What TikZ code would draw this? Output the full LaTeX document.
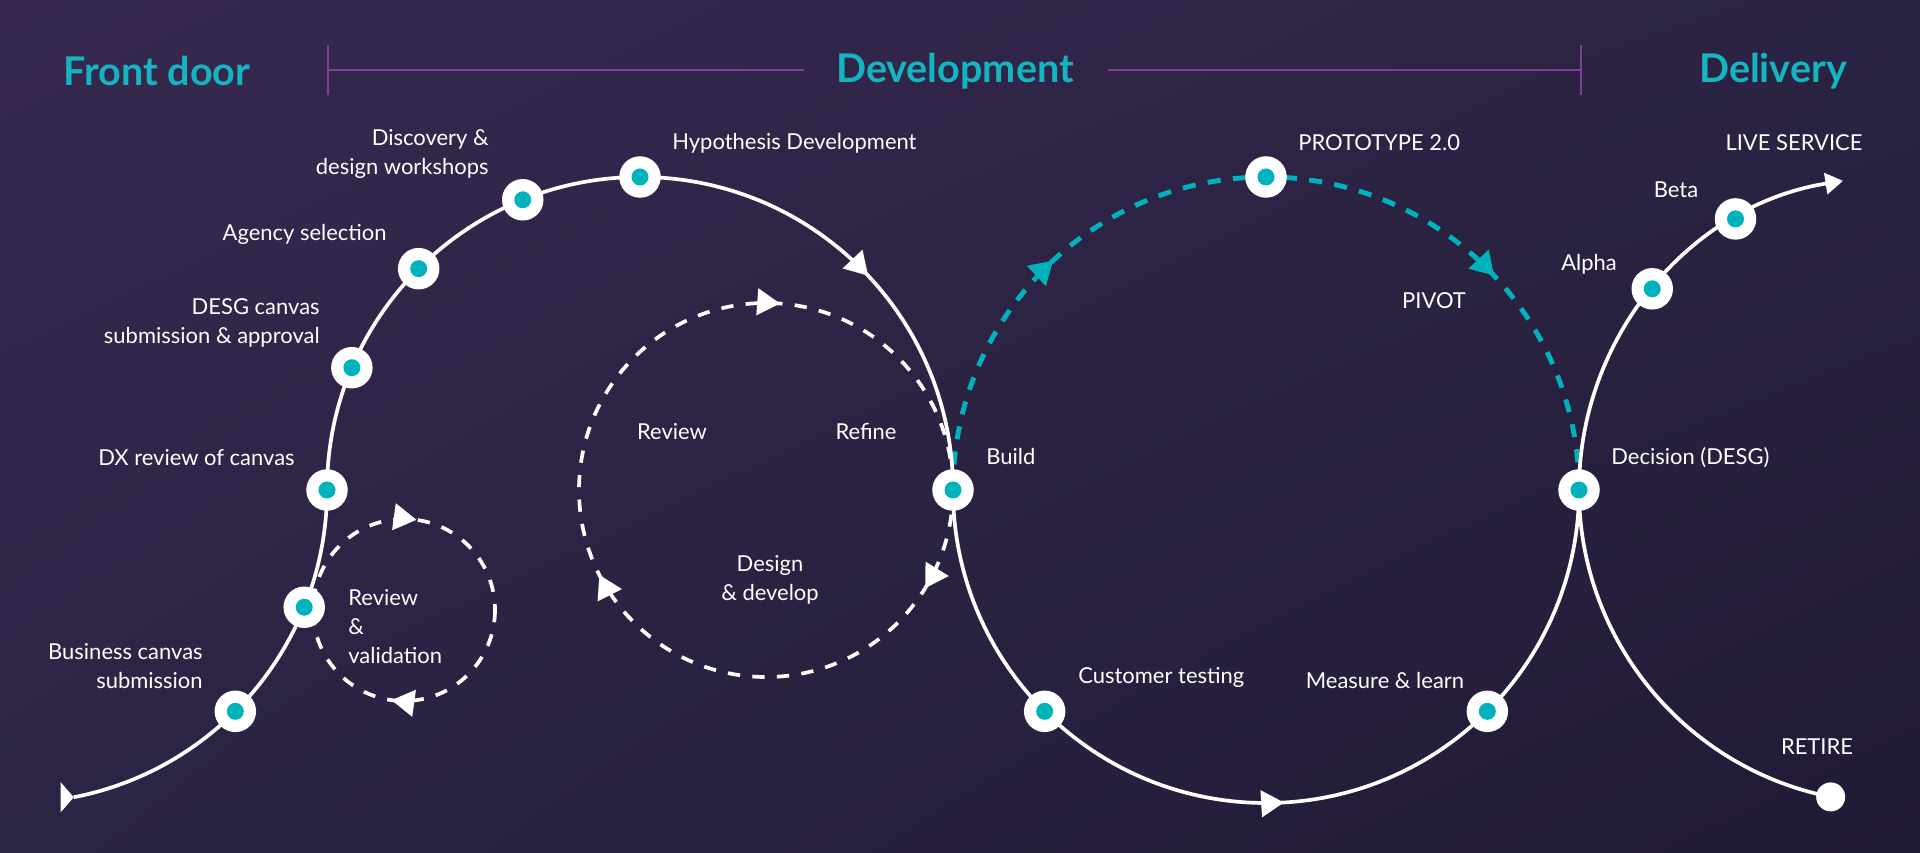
\documentclass[tikz,border=0pt]{standalone}
\usepackage{fontspec}
\setmainfont{Lato}
\usetikzlibrary{arrows.meta, decorations.markings, backgrounds, shadings, positioning}

\definecolor{bgUL}{HTML}{37294F}
\definecolor{bgUR}{HTML}{2B2343}
\definecolor{bgLL}{HTML}{2C2445}
\definecolor{bgLR}{HTML}{211A35}
\definecolor{dotteal}{HTML}{00B2BC}
\definecolor{headteal}{HTML}{14B4C0}
\definecolor{spanpurple}{HTML}{7D3F9E}

\tikzset{flow/.tip={Triangle[length=13pt, width=15pt]}}

\begin{document}
\begin{tikzpicture}[
  x=0.02cm, y=0.02cm,
  track/.style={draw=white, color=white, line width=2.1pt},
  loopline/.style={draw=white, color=white, line width=2.1pt, dash pattern=on 7pt off 7pt},
  pivotline/.style={draw=dotteal, color=dotteal, line width=2.8pt, dash pattern=on 7.5pt off 7pt},
  stage/.style={circle, fill=white, minimum size=0.83cm, inner sep=0pt,
    path picture={\fill[dotteal] (path picture bounding box.center) circle[radius=0.17cm];}},
  endstage/.style={circle, fill=white, minimum size=0.58cm, inner sep=0pt},
  lbl/.style={text=white, font=\fontsize{12.5}{16.5}\selectfont, inner sep=0pt},
  phase/.style={text=headteal, font=\fontsize{22.5}{26}\selectfont\bfseries, inner sep=0pt},
  span/.style={draw=spanpurple, line width=1.6pt}
]

\def\R{313}
\useasboundingbox (0,0) rectangle (1920,852);

% circle centres
\coordinate (c0) at (14,362);
\coordinate (c1) at (640,362);
\coordinate (c2) at (1266,362);
\coordinate (c3) at (1892,362);
\coordinate (c4) at (767,362);  % design loop
\coordinate (c5) at (404,242);  % validation loop

% Phases
\node[phase] (frontdoor) at (157,781) {Front door};
\node[phase] (development) at (955,781) {Development};
\node[phase] (delivery) at (1773,781) {Delivery};

\coordinate (spanL) at (328,782);
\coordinate (gapL) at (804,782);
\coordinate (gapR) at (1108,782);
\coordinate (spanR) at (1581,782);
\draw[span] (spanL) -- (gapL) (gapR) -- (spanR);
\draw[span] (spanL) ++(0,-25) -- ++(0,50) (spanR) ++(0,-25) -- ++(0,50);

% Stages
\node[stage] (bizcanvas) at ([shift={(-45:\R)}]c0) {};
\node[stage] (validate) at ([shift={(-22:\R)}]c0) {};
\node[stage] (dxreview) at ([shift={(180:\R)}]c1) {};
\node[stage] (desgcanvas) at ([shift={(157:\R)}]c1) {};
\node[stage] (agency) at ([shift={(135:\R)}]c1) {};
\node[stage] (discovery) at ([shift={(112:\R)}]c1) {};
\node[stage] (hypothesis) at ([shift={(90:\R)}]c1) {};
\node[stage] (build) at ([shift={(0:\R)}]c1) {};
\node[stage] (custtest) at ([shift={(225:\R)}]c2) {};
\node[stage] (measure) at ([shift={(315:\R)}]c2) {};
\node[stage] (proto) at ([shift={(90:\R)}]c2) {};
\node[stage] (decision) at ([shift={(0:\R)}]c2) {};
\node[stage] (alpha) at ([shift={(140:\R)}]c3) {};
\node[stage] (beta) at ([shift={(120:\R)}]c3) {};
\node[endstage] (retire) at ([shift={(258.7:\R)}]c3) {};
\coordinate (entry) at ([shift={(-79:\R)}]c0);

% Labels
\node[lbl, anchor=east, align=right] (discoverylbl) at (489,698) {Discovery \&\\design workshops};
\node[lbl, anchor=west] (hypolbl) at (672,709) {Hypothesis Development};
\node[lbl, anchor=east] (agencylbl) at (387,618) {Agency selection};
\node[lbl, anchor=east, align=right] (desglbl) at (320,529) {DESG canvas\\submission \& approval};
\node[lbl, anchor=east] (dxlbl) at (295,394) {DX review of canvas};
\node[lbl, anchor=east, align=right] (bizlbl) at (203,186) {Business canvas\\submission};
\node[lbl, anchor=west, align=left] (validlbl) at (348,225) {Review\\\&\\validation};
\node[lbl] (reviewlbl) at (672,420) {Review};
\node[lbl] (refinelbl) at (866,420) {Refine};
\node[lbl, align=center] (designlbl) at (770,272) {Design\\\& develop};
\node[lbl, anchor=west] (buildlbl) at (986,395) {Build};
\node[lbl, anchor=west] (custlbl) at (1078,175) {Customer testing};
\node[lbl] (measurelbl) at (1385,171) {Measure \& learn};
\node[lbl, anchor=west] (protolbl) at (1298,709) {PROTOTYPE 2.0};
\node[lbl] (pivotlbl) at (1434,551) {PIVOT};
\node[lbl, anchor=west] (decisionlbl) at (1611,394) {Decision (DESG)};
\node[lbl] (alphalbl) at (1589,588) {Alpha};
\node[lbl] (betalbl) at (1676,662) {Beta};
\node[lbl] (livelbl) at (1794,709) {LIVE SERVICE};
\node[lbl] (retirelbl) at (1817,105) {RETIRE};

\begin{scope}[on background layer]
\shade[upper left=bgUL, upper right=bgUR, lower left=bgLL, lower right=bgLR] (0,0) rectangle (1920,852);

% Loops
\draw[loopline, postaction={decorate}, decoration={markings,
    mark=at position 0.088 with {\arrow{flow}},
    mark=at position 0.425 with {\arrow{flow}},
    mark=at position 0.762 with {\arrow{flow}}}]
  (build.center) arc[start angle=360, end angle=0, radius=187];
\draw[loopline, postaction={decorate}, decoration={markings,
    mark=at position 0.272 with {\arrow{flow}},
    mark=at position 0.772 with {\arrow{flow}}}]
  ([shift={(0:91)}]c5) arc[start angle=360, end angle=0, radius=91];
\draw[pivotline, postaction={decorate}, decoration={markings,
    mark=at position 0.262 with {\arrow{flow}},
    mark=at position 0.76 with {\arrow{flow}}}]
  (build.center) arc[start angle=180, end angle=0, radius=\R];

% Main track
\fill[white] (entry) -- ++(-13,15) -- ++(0,-30) -- cycle;
\draw[track, -{Triangle[length=10pt, width=12pt]},
    postaction={decorate}, decoration={markings,
    mark=at position 0.415 with {\arrow{flow}},
    mark=at position 0.6775 with {\arrow{flow}}}]
  (entry) arc[start angle=-79, end angle=0, radius=\R]
  arc[start angle=180, end angle=0, radius=\R]
  arc[start angle=180, end angle=360, radius=\R]
  arc[start angle=180, end angle=99, radius=\R];
\draw[track] (decision.center) arc[start angle=180, end angle=258.7, radius=\R];
\end{scope}

\end{tikzpicture}
\end{document}
